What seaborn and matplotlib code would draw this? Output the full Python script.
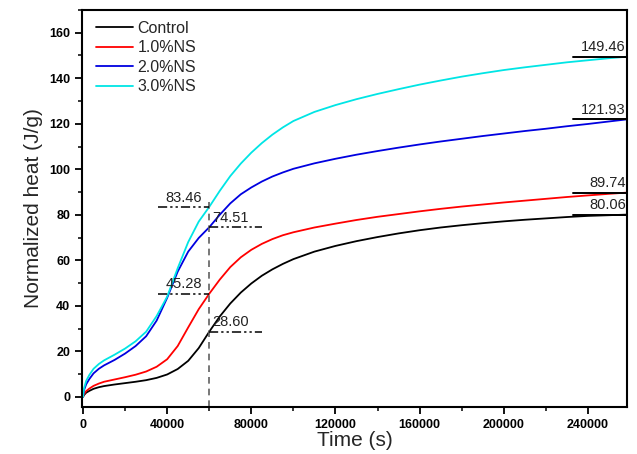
import numpy as np
import pandas as pd
import matplotlib
import matplotlib.pyplot as plt
import seaborn as sns
from matplotlib.ticker import MultipleLocator

matplotlib.use('Agg')

# time axis (s) and curve values
time_s = [0, 500, 1500, 3000, 5000, 7500, 10000, 15000, 20000, 25000,
          30000, 35000, 40000, 45000, 50000, 55000, 60000, 65000, 70000, 75000,
          80000, 85000, 90000, 95000, 100000, 110000, 120000, 130000, 140000, 150000,
          160000, 170000, 180000, 190000, 200000, 210000, 220000, 230000, 240000, 250000,
          258600]

control = [0, 0.8, 1.8, 2.6, 3.5, 4.2, 4.7, 5.4, 6.0, 6.6,
           7.3, 8.3, 9.8, 12.2, 15.8, 21.4, 28.6, 35.3, 41.0, 45.8,
           49.8, 53.2, 56.0, 58.4, 60.5, 63.8, 66.3, 68.4, 70.2, 71.8,
           73.2, 74.4, 75.4, 76.3, 77.1, 77.8, 78.4, 79.0, 79.5, 79.8,
           80.06]
ns_10 = [0, 1.2, 2.5, 3.6, 4.8, 5.8, 6.6, 7.6, 8.6, 9.7,
         11.1, 13.2, 16.5, 22.3, 30.5, 38.5, 45.28, 51.5, 57.0, 61.3,
         64.6, 67.2, 69.3, 71.0, 72.3, 74.4, 76.1, 77.7, 79.1, 80.3,
         81.5, 82.6, 83.6, 84.5, 85.4, 86.2, 87.0, 87.8, 88.5, 89.2,
         89.74]
ns_20 = [0, 3.0, 5.5, 7.8, 10.3, 12.3, 13.8, 16.2, 19.0, 22.3,
         26.6, 33.5, 43.5, 55.0, 63.8, 69.8, 74.51, 80.0, 85.0, 89.0,
         92.0, 94.6, 96.8, 98.6, 100.2, 102.6, 104.6, 106.4, 108.0, 109.5,
         110.9, 112.2, 113.4, 114.6, 115.7, 116.8, 117.8, 118.9, 119.9, 121.0,
         121.93]
ns_30 = [0, 3.8, 7.0, 9.6, 12.3, 14.4, 16.0, 18.5, 21.2, 24.4,
         28.6, 35.5, 44.0, 56.5, 68.0, 77.0, 83.46, 90.5, 97.0, 102.5,
         107.3, 111.5, 115.2, 118.4, 121.2, 125.2, 128.2, 130.8, 133.1, 135.2,
         137.2, 139.0, 140.7, 142.2, 143.6, 144.8, 145.9, 147.0, 147.9, 148.8,
         149.46]

labels = ['Control', '1.0%NS', '2.0%NS', '3.0%NS']
colors = ['black', '#ff0000', '#0000e0', '#00e5e5']

# values marked at t = 60000 s and at the end
mid_t = 60000
mid_vals = [28.60, 45.28, 74.51, 83.46]
mid_side = ['right', 'left', 'right', 'left']
end_vals = [80.06, 89.74, 121.93, 149.46]

series = [control, ns_10, ns_20, ns_30]
df = pd.concat([pd.DataFrame({'time': time_s, 'heat': s, 'sample': lab})
                for s, lab in zip(series, labels)], ignore_index=True)

sns.set_theme(style='ticks')
plt.rcParams['font.family'] = ['Liberation Sans', 'DejaVu Sans']

fig = plt.figure(figsize=(6.37, 4.54), dpi=100)
ax = fig.add_axes([0.1287, 0.1035, 0.8556, 0.8745])

sns.lineplot(data=df, x='time', y='heat', hue='sample', palette=colors,
             linewidth=1.3, ax=ax, sort=False, estimator=None)

xmin, xmax = -500, 258600
ax.set_xlim(xmin, xmax)
ax.set_ylim(-4.5, 170)

# vertical dashed marker at 60000 s
ax.plot([mid_t, mid_t], [-4.5, 86], color='#606060', linestyle=(0, (4, 3)), linewidth=1.2)

for v, side in zip(mid_vals, mid_side):
    if side == 'left':
        x0, x1 = 35600, mid_t
        tx, ha = (x0 + x1) / 2, 'center'
    else:
        x0, x1 = mid_t, 85000
        tx, ha = mid_t + 1500, 'left'
    ax.plot([x0, x1], [v, v], color='black', linestyle=(0, (6, 2, 1.5, 2, 1.5, 2)), linewidth=1.1)
    ax.text(tx, v + 1.0, f'{v:.2f}', ha=ha, va='bottom', fontsize=10.5, color='#222222')

for v in end_vals:
    ax.plot([233000, xmax], [v, v], color='black', linewidth=1.4)
    ax.text(xmax - 600, v + 1.0, f'{v:.2f}', ha='right', va='bottom', fontsize=10.5, color='#222222')

ax.xaxis.set_major_locator(MultipleLocator(40000))
ax.xaxis.set_minor_locator(MultipleLocator(20000))
ax.yaxis.set_major_locator(MultipleLocator(20))
ax.yaxis.set_minor_locator(MultipleLocator(10))
ax.tick_params(which='major', direction='out', length=5, width=1.3, labelsize=9, colors='black')
ax.tick_params(which='minor', direction='out', length=3, width=1.3)
for lab in ax.get_xticklabels() + ax.get_yticklabels():
    lab.set_fontweight('bold')

for sp in ax.spines.values():
    sp.set_visible(True)
    sp.set_linewidth(1.5)
    sp.set_color('black')

ax.set_xlabel('Time (s)', fontsize=15, labelpad=0)
ax.set_ylabel('Normalized heat (J/g)', fontsize=15, labelpad=4)

leg = ax.legend(loc='upper left', frameon=False, fontsize=11.5, handlelength=2.3,
                handletextpad=0.3, labelspacing=0.28, borderaxespad=0.2,
                bbox_to_anchor=(0.008, 0.997))
for line in leg.get_lines():
    line.set_linewidth(1.3)

fig.savefig('out.png', dpi=100)
plt.close(fig)
